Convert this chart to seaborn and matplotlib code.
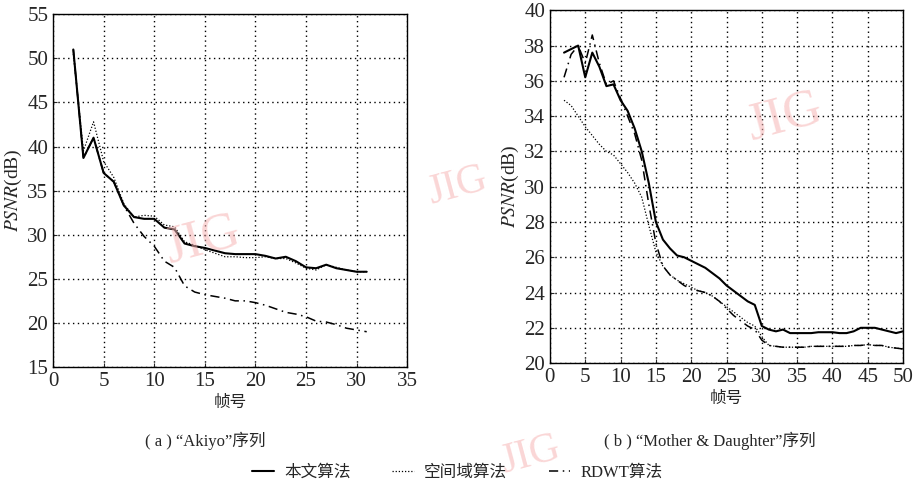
import numpy as np
import pandas as pd
import seaborn as sns
import matplotlib.pyplot as plt

# Akiyo sequence
akiyo_frames = list(range(2, 32))
akiyo_ours = [51.0, 38.7, 41.0, 37.0, 36.0, 33.3, 32.0, 31.8, 31.8, 30.8,
              30.6, 29.0, 28.7, 28.5, 28.2, 27.9, 27.8, 27.8, 27.8, 27.6,
              27.3, 27.5, 27.0, 26.3, 26.2, 26.6, 26.2, 26.0, 25.8, 25.8]
akiyo_spatial = [50.5, 39.5, 42.8, 38.3, 36.5, 33.5, 32.0, 32.2, 32.1, 31.1,
                 30.9, 29.2, 28.8, 28.3, 27.9, 27.5, 27.5, 27.4, 27.4, 27.5,
                 27.3, 27.3, 26.8, 26.2, 26.0, 26.6, 26.3, 26.0, 25.8, 25.8]
akiyo_rdwt = [51.0, 38.7, 41.0, 37.0, 36.0, 33.3, 31.3, 29.8, 28.7, 27.0,
              26.3, 24.2, 23.5, 23.2, 23.0, 22.8, 22.5, 22.5, 22.3, 22.0,
              21.6, 21.2, 21.0, 20.7, 20.2, 20.1, 19.8, 19.4, 19.2, 19.0]

# Mother & Daughter sequence
md_frames = list(range(2, 51))
md_ours = [37.6, 37.8, 38.0, 36.2, 37.6, 36.8, 35.7, 35.8, 34.9, 34.3,
           33.3, 32.0, 30.2, 28.0, 27.0, 26.5, 26.1, 26.0, 25.8, 25.6,
           25.4, 25.1, 24.8, 24.4, 24.1, 23.8, 23.5, 23.3, 22.1, 21.9,
           21.8, 21.9, 21.7, 21.7, 21.7, 21.7, 21.75, 21.75, 21.75, 21.7,
           21.7, 21.8, 22.0, 22.0, 22.0, 21.9, 21.8, 21.7, 21.8]
md_spatial = [34.9, 34.6, 34.0, 33.4, 32.9, 32.4, 32.0, 31.8, 31.3, 30.8,
              30.2, 29.4, 27.8, 26.3, 25.5, 25.0, 24.7, 24.5, 24.3, 24.1,
              24.0, 23.8, 23.5, 23.2, 22.9, 22.6, 22.3, 22.1, 21.5, 21.0,
              20.95, 20.9, 20.9, 20.9, 20.9, 20.95, 20.95, 20.95, 20.95, 20.95,
              20.95, 21.0, 21.0, 21.05, 21.0, 21.0, 20.9, 20.85, 20.8]
md_rdwt = [36.2, 37.5, 38.0, 37.0, 38.6, 37.0, 35.8, 36.0, 35.0, 34.0,
           33.0, 31.5, 29.0, 26.8, 25.5, 25.0, 24.7, 24.4, 24.2, 24.1,
           24.0, 23.8, 23.5, 23.1, 22.7, 22.4, 22.1, 21.9, 21.3, 21.0,
           20.95, 20.9, 20.9, 20.9, 20.9, 20.95, 20.95, 20.95, 20.95, 20.95,
           20.95, 21.0, 21.0, 21.05, 21.0, 21.0, 20.9, 20.85, 20.8]

methods = ['本文算法', '空间域算法', 'RDWT算法']
dashes = {'本文算法': '', '空间域算法': (1, 1.5), 'RDWT算法': (6, 3, 1, 3)}
widths = {'本文算法': 1.5, '空间域算法': 0.9, 'RDWT算法': 1.1}


def to_long(frames, series):
    rows = []
    for name, vals in zip(methods, series):
        for f, v in zip(frames, vals):
            rows.append({'frame': f, 'psnr': v, 'method': name})
    return pd.DataFrame(rows)


akiyo_df = to_long(akiyo_frames, [akiyo_ours, akiyo_spatial, akiyo_rdwt])
md_df = to_long(md_frames, [md_ours, md_spatial, md_rdwt])

sns.set_style('ticks')
plt.rcParams['font.family'] = 'serif'
plt.rcParams['font.serif'] = ['Liberation Serif']
plt.rcParams['mathtext.fontset'] = 'stix'
cjk = ['Noto Sans CJK SC', 'DejaVu Sans']
mixed = ['Liberation Serif', 'Noto Sans CJK SC']

fig = plt.figure(figsize=(9.15, 4.9), dpi=100)
ax1 = fig.add_axes([0.058, 0.251, 0.387, 0.720])
ax2 = fig.add_axes([0.601, 0.259, 0.386, 0.720])


def draw(ax, df, xlim, ylim, xticks, yticks):
    for name in methods:
        sub = df[df['method'] == name]
        sns.lineplot(data=sub, x='frame', y='psnr', ax=ax, color='black',
                     lw=widths[name], legend=False)
        l = ax.lines[-1]
        if dashes[name]:
            l.set_dashes(dashes[name])
    ax.set_xlim(*xlim)
    ax.set_ylim(*ylim)
    ax.set_xticks(xticks)
    ax.set_yticks(yticks)
    ax.grid(True, color='black', linestyle=(0, (1, 2.5)), lw=1.0)
    ax.tick_params(direction='in', labelsize=15, length=3)
    for t in ax.get_xticklabels() + ax.get_yticklabels():
        t.set_family('Liberation Serif')
    for s in ax.spines.values():
        s.set_color('black')
        s.set_linewidth(1.0)
    ax.set_xlabel('帧号', fontsize=12, family=cjk, labelpad=2)
    ax.set_ylabel('$PSNR$(dB)', fontsize=14, labelpad=2, family='Liberation Serif')


draw(ax1, akiyo_df, (0, 35), (15, 55), range(0, 36, 5), range(15, 56, 5))
draw(ax2, md_df, (0, 50), (20, 40), range(0, 51, 5), range(20, 41, 2))

fig.text(0.224, 0.100, '( a ) “Akiyo”序列', ha='center', va='center', fontsize=12, family=mixed)
fig.text(0.776, 0.100, '( b ) “Mother & Daughter”序列', ha='center', va='center', fontsize=12, family=mixed)

# legend at the bottom
handles = [plt.Line2D([], [], color='black', lw=widths[m]) for m in methods]
for h, m in zip(handles, methods):
    if dashes[m]:
        h.set_dashes(dashes[m])
fig.legend(handles, methods, loc='center', bbox_to_anchor=(0.5, 0.035), ncol=3,
           frameon=False, prop={'family': mixed, 'size': 12}, handlelength=1.3,
           columnspacing=2.5, handletextpad=0.6)

# watermarks
for x, y, r, fs in [(0.222, 0.51, 15, 38), (0.858, 0.76, 15, 38), (0.50, 0.62, 15, 30),
                    (0.58, 0.07, 15, 30)]:
    fig.text(x, y, 'JIG', color='#f6b4b4', alpha=0.55, fontsize=fs, rotation=r,
             ha='center', va='center', family='Liberation Serif', zorder=0)

fig.savefig('out.png', dpi=100)
